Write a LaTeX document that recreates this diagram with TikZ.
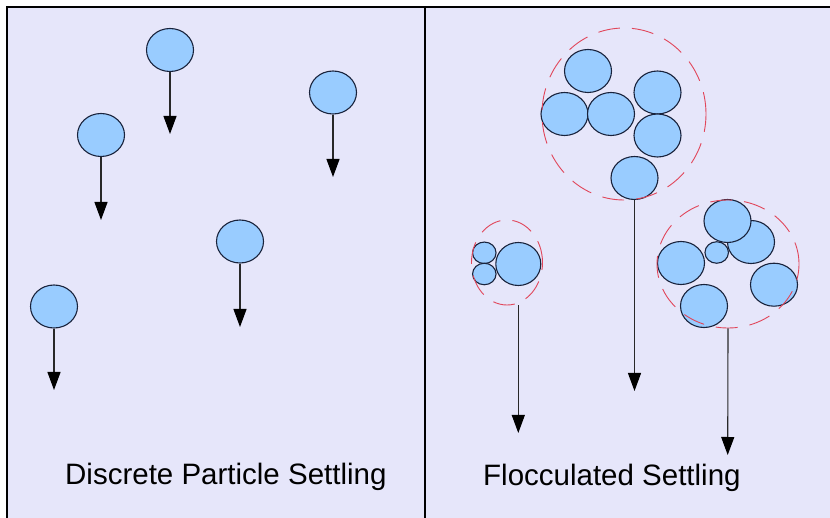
\documentclass[tikz,border=0pt]{standalone}
\usepackage{fontspec}
\setmainfont{Liberation Sans}
\usetikzlibrary{shapes.geometric,arrows.meta}
\definecolor{panelbg}{RGB}{230,230,250}
\definecolor{partfill}{RGB}{153,204,255}
\definecolor{partline}{RGB}{25,35,60}
\definecolor{flocline}{RGB}{225,70,90}
\definecolor{shaft}{RGB}{40,40,40}
\tikzset{
  particle/.style={ellipse, draw=partline, fill=partfill, line width=1.1pt, inner sep=0pt, minimum width=47pt, minimum height=43pt},
  smallpart/.style={particle, minimum width=23.5pt, minimum height=21.5pt},
  floc/.style={ellipse, draw=flocline, line width=0.9pt, dash pattern=on 22pt off 12pt, inner sep=0pt},
  settle/.style={draw=shaft, line width=1.1pt, -{Triangle[width=13pt,length=18pt,color=black]}},
  caption/.style={anchor=base west, inner sep=0pt, font=\fontsize{29.5}{34}\selectfont, text=black},
  frameline/.style={line width=1.8pt, draw=black}
}
\begin{document}
\begin{tikzpicture}[x=1pt,y=-1pt]
\useasboundingbox (0,0) rectangle (830,518);
\fill[white] (0,0) rectangle (830,518);
\fill[panelbg] (7,7) rectangle (830,518);
\coordinate (tl) at (7,7);
\coordinate (tr) at (830,7);
\coordinate (bl) at (7,518);
\coordinate (dt) at (425,7);
\coordinate (db) at (425,518);
\draw[frameline] (bl) -- (tl) -- (tr);
\draw[frameline] (dt) -- (db);

% Left panel: discrete particles
\node[particle] (p1) at (170,50) {};
\node[particle] (p2) at (333,92.5) {};
\node[particle] (p3) at (101,135) {};
\node[particle] (p4) at (240,241.5) {};
\node[particle] (p5) at (54,306.5) {};
\coordinate (e1) at (170,134);
\coordinate (e2) at (333,177);
\coordinate (e3) at (101,220);
\coordinate (e4) at (240,327);
\coordinate (e5) at (54,390);
\draw[settle] (p1.south) -- (e1);
\draw[settle] (p2.south) -- (e2);
\draw[settle] (p3.south) -- (e3);
\draw[settle] (p4.south) -- (e4);
\draw[settle] (p5.south) -- (e5);

% Right panel: big floc
\node[particle] (a) at (588,71) {};
\node[particle] (b) at (564.5,114) {};
\node[particle] (c) at (611,114) {};
\node[particle] (d) at (657.5,92.5) {};
\node[particle] (e) at (657.5,135.5) {};
\node[particle] (f) at (634.5,178) {};
\node[floc, minimum width=164pt, minimum height=172pt] (fbig) at (624,114) {};
\coordinate (ef) at (634.5,391);
\draw[settle] (f.south) -- (ef);

% small floc
\node[smallpart] (s1) at (484.3,252.8) {};
\node[smallpart] (s2) at (484.3,274) {};
\node[particle, minimum width=45pt] (s3) at (518.3,264) {};
\node[floc, minimum width=71pt, minimum height=85pt] (fsmall) at (507,262.5) {};
\coordinate (es) at (518.3,433);
\draw[settle] (fsmall.south -| s3.south) -- (es);

% right floc
\node[particle] (h) at (751,242) {};
\node[particle] (g) at (727.5,221) {};
\node[smallpart] (i) at (716.7,252.5) {};
\node[particle] (j) at (681,263) {};
\node[particle] (k) at (704,306) {};
\node[particle] (l) at (774,284.7) {};
\node[floc, minimum width=142pt, minimum height=128pt] (fright) at (728,264) {};
\coordinate (er) at (727.7,455);
\draw[settle] (fright.south) -- (er);

% captions
\node[caption] (cap1) at (65,484) {Discrete Particle Settling};
\node[caption] (cap2) at (483,485) {Flocculated Settling};
\end{tikzpicture}
\end{document}
